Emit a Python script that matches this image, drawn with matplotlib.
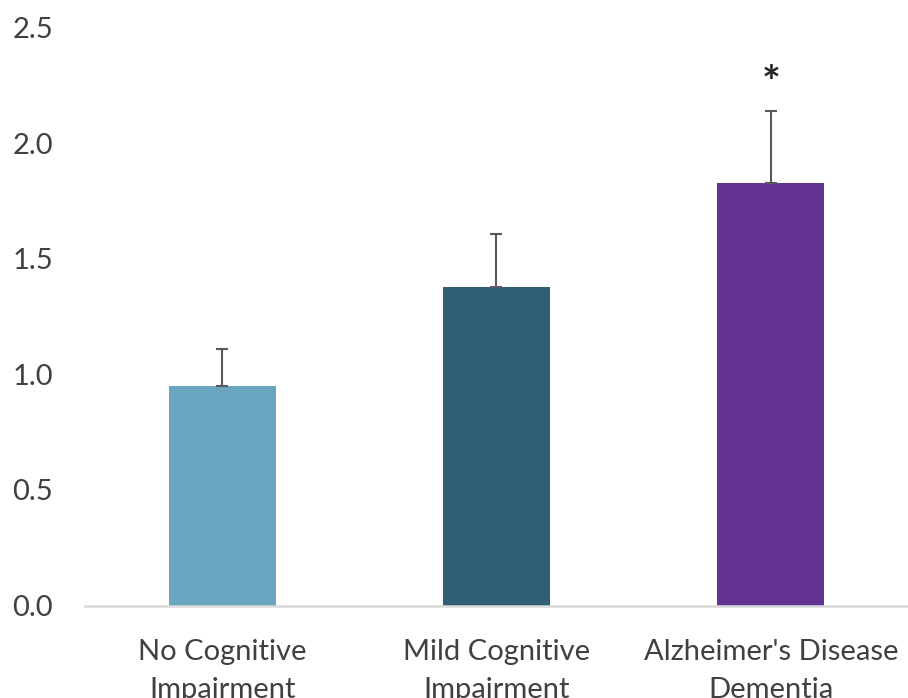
import matplotlib
matplotlib.use("Agg")
import matplotlib.pyplot as plt

categories = ["No Cognitive\nImpairment", "Mild Cognitive\nImpairment", "Alzheimer's Disease\nDementia"]
values = [0.95, 1.38, 1.83]
err_upper = [0.16, 0.23, 0.31]
colors = ["#6ba6c1", "#305f73", "#623392"]
yticks = [0.0, 0.5, 1.0, 1.5, 2.0, 2.5]
significant = [False, False, True]

plt.rcParams["font.family"] = ["Lato", "DejaVu Sans"]

fig = plt.figure(figsize=(9.08, 6.98), dpi=100)
ax = fig.add_axes([0.0936, 0.1325, 0.9064, 0.8275])

x = list(range(len(categories)))
ax.bar(x, values, width=0.39, color=colors, zorder=2)
ax.errorbar(x, values, yerr=[[0] * len(values), err_upper], fmt="none",
            ecolor="#595959", elinewidth=1.5, capsize=4.3, capthick=1.5, zorder=3)

for xi, v, e, s in zip(x, values, err_upper, significant):
    if s:
        ax.text(xi, v + e + 0.03, "*", ha="center", va="bottom",
                fontsize=32, fontweight="bold", color="#262626")

ax.set_xlim(-0.5, 2.5)
ax.set_ylim(0, 2.5)
ax.set_yticks(yticks)
ax.set_yticklabels([f"{t:.1f}" for t in yticks])
ax.set_xticks(x)
ax.set_xticklabels(categories, linespacing=1.6)

for side in ["top", "right", "left"]:
    ax.spines[side].set_visible(False)
ax.spines["bottom"].set_color("#d9d9d9")
ax.spines["bottom"].set_linewidth(1.8)
ax.spines["bottom"].set_zorder(4)

ax.tick_params(axis="both", length=0, labelsize=21, labelcolor="#404040")
ax.tick_params(axis="y", pad=23)
ax.tick_params(axis="x", pad=24)

fig.savefig("out.png", dpi=100)
